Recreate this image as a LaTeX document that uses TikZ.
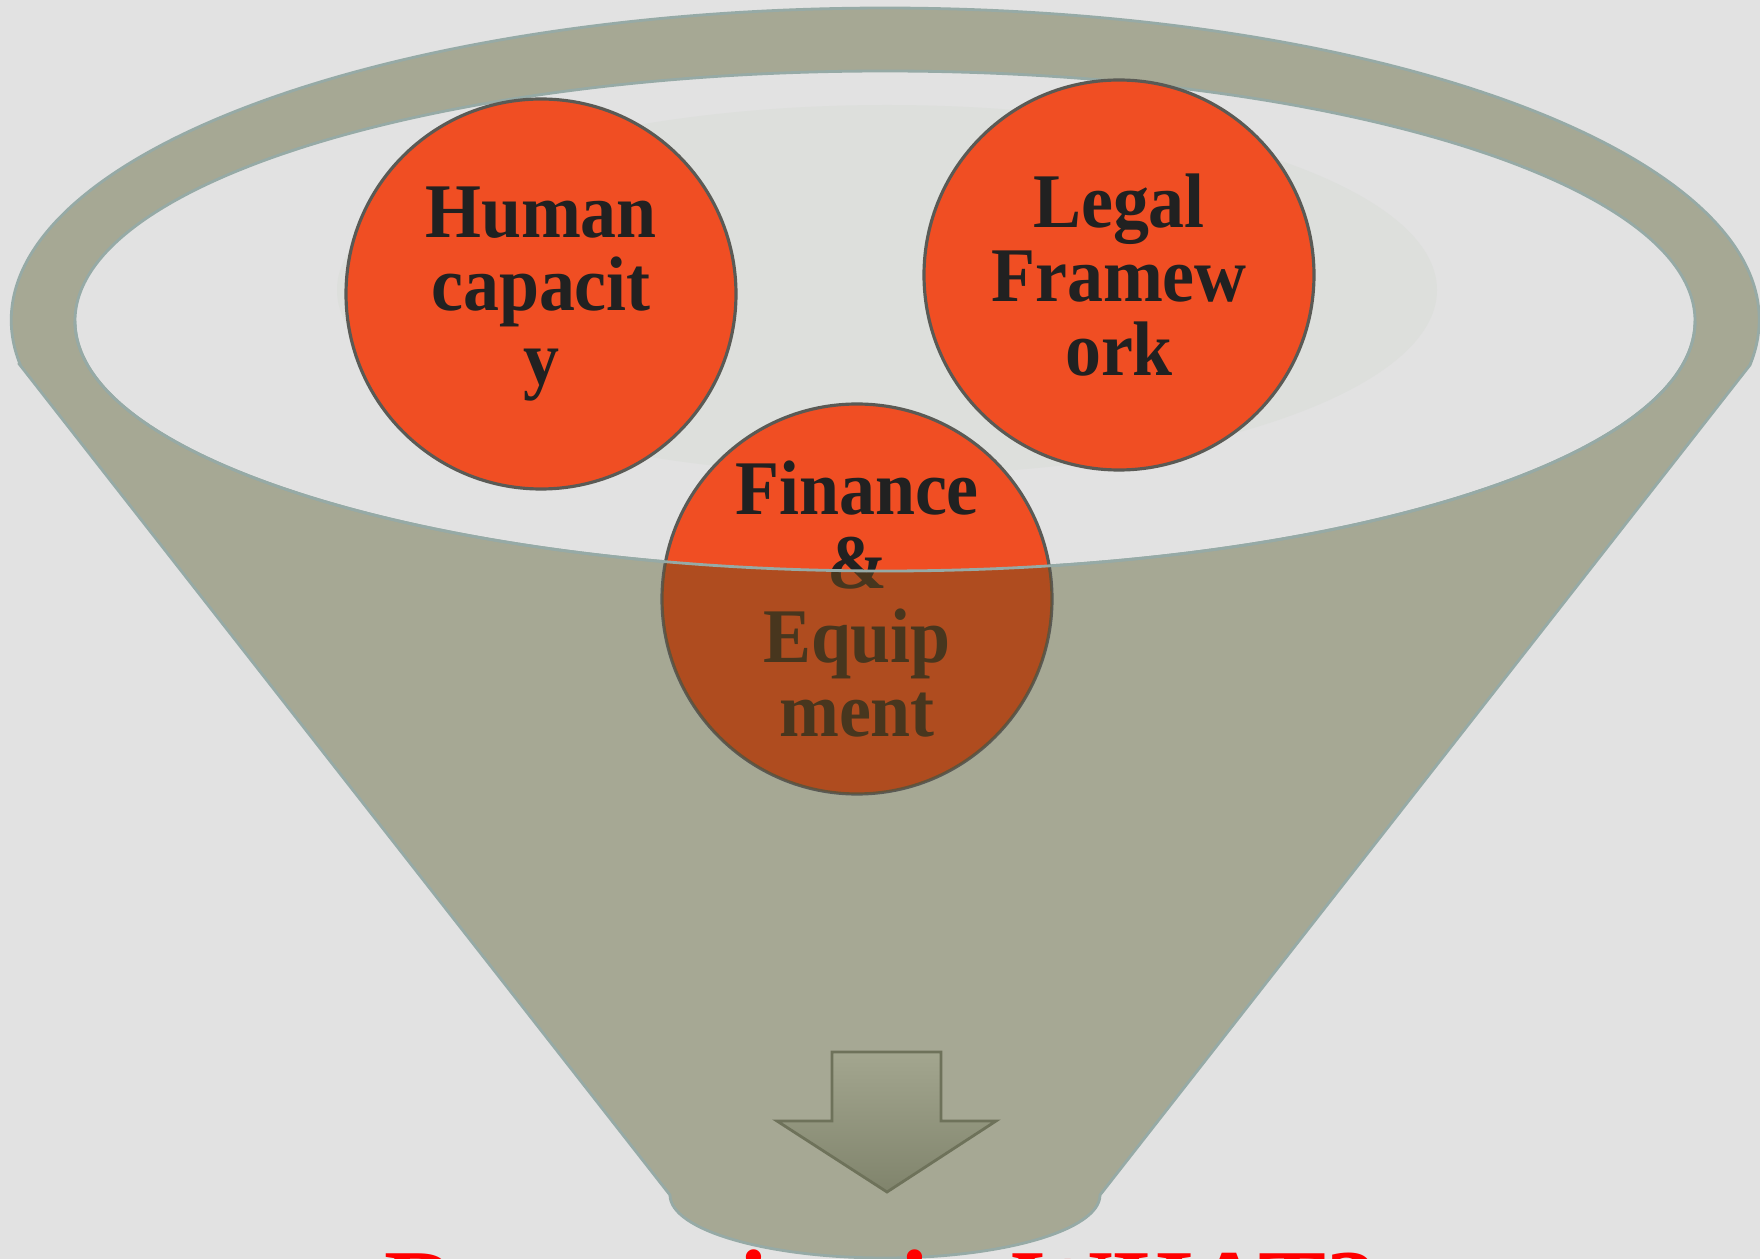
\documentclass[tikz,border=0pt]{standalone}
\usepackage{fontspec}
\setmainfont{Liberation Serif}
\newfontfamily\pebblefont[FakeStretch=0.93]{Liberation Serif}
\usetikzlibrary{positioning}

%% colours of the slide
\definecolor{paper}{RGB}{226,226,226}
\definecolor{funnelgray}{RGB}{166,168,148}
\definecolor{rimline}{RGB}{150,170,166}
\definecolor{shadowgray}{RGB}{221,223,220}
\definecolor{pebblered}{RGB}{240,78,35}
\definecolor{pebbleline}{RGB}{90,90,85}
\definecolor{sunkbrown}{RGB}{112,76,29}
\definecolor{arrowtop}{RGB}{163,166,143}
\definecolor{arrowmid}{RGB}{122,126,102}
\definecolor{arrowline}{RGB}{110,114,90}
\definecolor{askred}{RGB}{255,0,0}

\tikzset{
  pebble/.style={circle, minimum size=3.9cm, inner sep=0pt, fill=pebblered,
    draw=pebbleline, line width=0.9pt, align=center, text=black!87,
    font=\pebblefont\fontsize{22}{21}\selectfont\bfseries},
  rim/.style={draw=rimline, line width=0.8pt},
}

%% lower half of the inner rim
%% 1 param : what follows the arc
\newcommand{\frontrim}[1]{(0.75,-3.21) arc[start angle=180, end angle=360,
  x radius=8.10, y radius=2.50] #1}

\begin{document}
\begin{tikzpicture}
  \useasboundingbox (0,0) rectangle (17.6,-12.59);
  \clip (0,0) rectangle (17.6,-12.59);
  \fill[paper] (0,0) rectangle (17.6,-12.59);
  \fill[shadowgray] (8.87,-2.90) ellipse[x radius=5.5, y radius=1.85];

  %% the funnel : rim, sides and spout
  \filldraw[funnelgray, rim, even odd rule]
    (0.20,-3.65) -- (6.70,-11.95)
    arc[start angle=180, end angle=360, x radius=2.15, y radius=0.63]
    -- (17.50,-3.65)
    arc[start angle=-8.29, end angle=188.29, x radius=8.74, y radius=3.12]
    -- cycle
    (8.85,-3.21) ellipse[x radius=8.10, y radius=2.50];

  %% the three needs
  \node[pebble] (human) at (5.41,-2.94) {Human\\capacit\\y};
  \node[pebble] (legal) at (11.19,-2.75) {Legal\\Framew\\ork};
  \node[pebble] (finance) at (8.57,-5.99) {Finance\\\&\\Equip\\ment};

  % part of finance sunk in the funnel
  \begin{scope}
    \clip \frontrim{-- (16.95,-13) -- (0.75,-13) -- cycle};
    \fill[sunkbrown, opacity=0.5] (finance.center) circle[radius=1.95];
  \end{scope}
  \draw[rim] \frontrim{};

  %% down arrow
  \shadedraw[top color=arrowtop, middle color=arrowmid,
    bottom color=arrowmid!85!arrowtop, draw=arrowline, line width=0.8pt]
    (8.32,-10.52) -- ++(1.09,0) -- ++(0,-0.69) -- ++(0.55,0)
    -- (8.87,-11.92) -- (7.77,-11.21) -- ++(0.55,0) -- cycle;

  \node[anchor=base, text=askred, font=\fontsize{29}{31}\selectfont\bfseries]
    (what) at (8.81,-13.20) {Resourcing in WHAT?};
\end{tikzpicture}
\end{document}
